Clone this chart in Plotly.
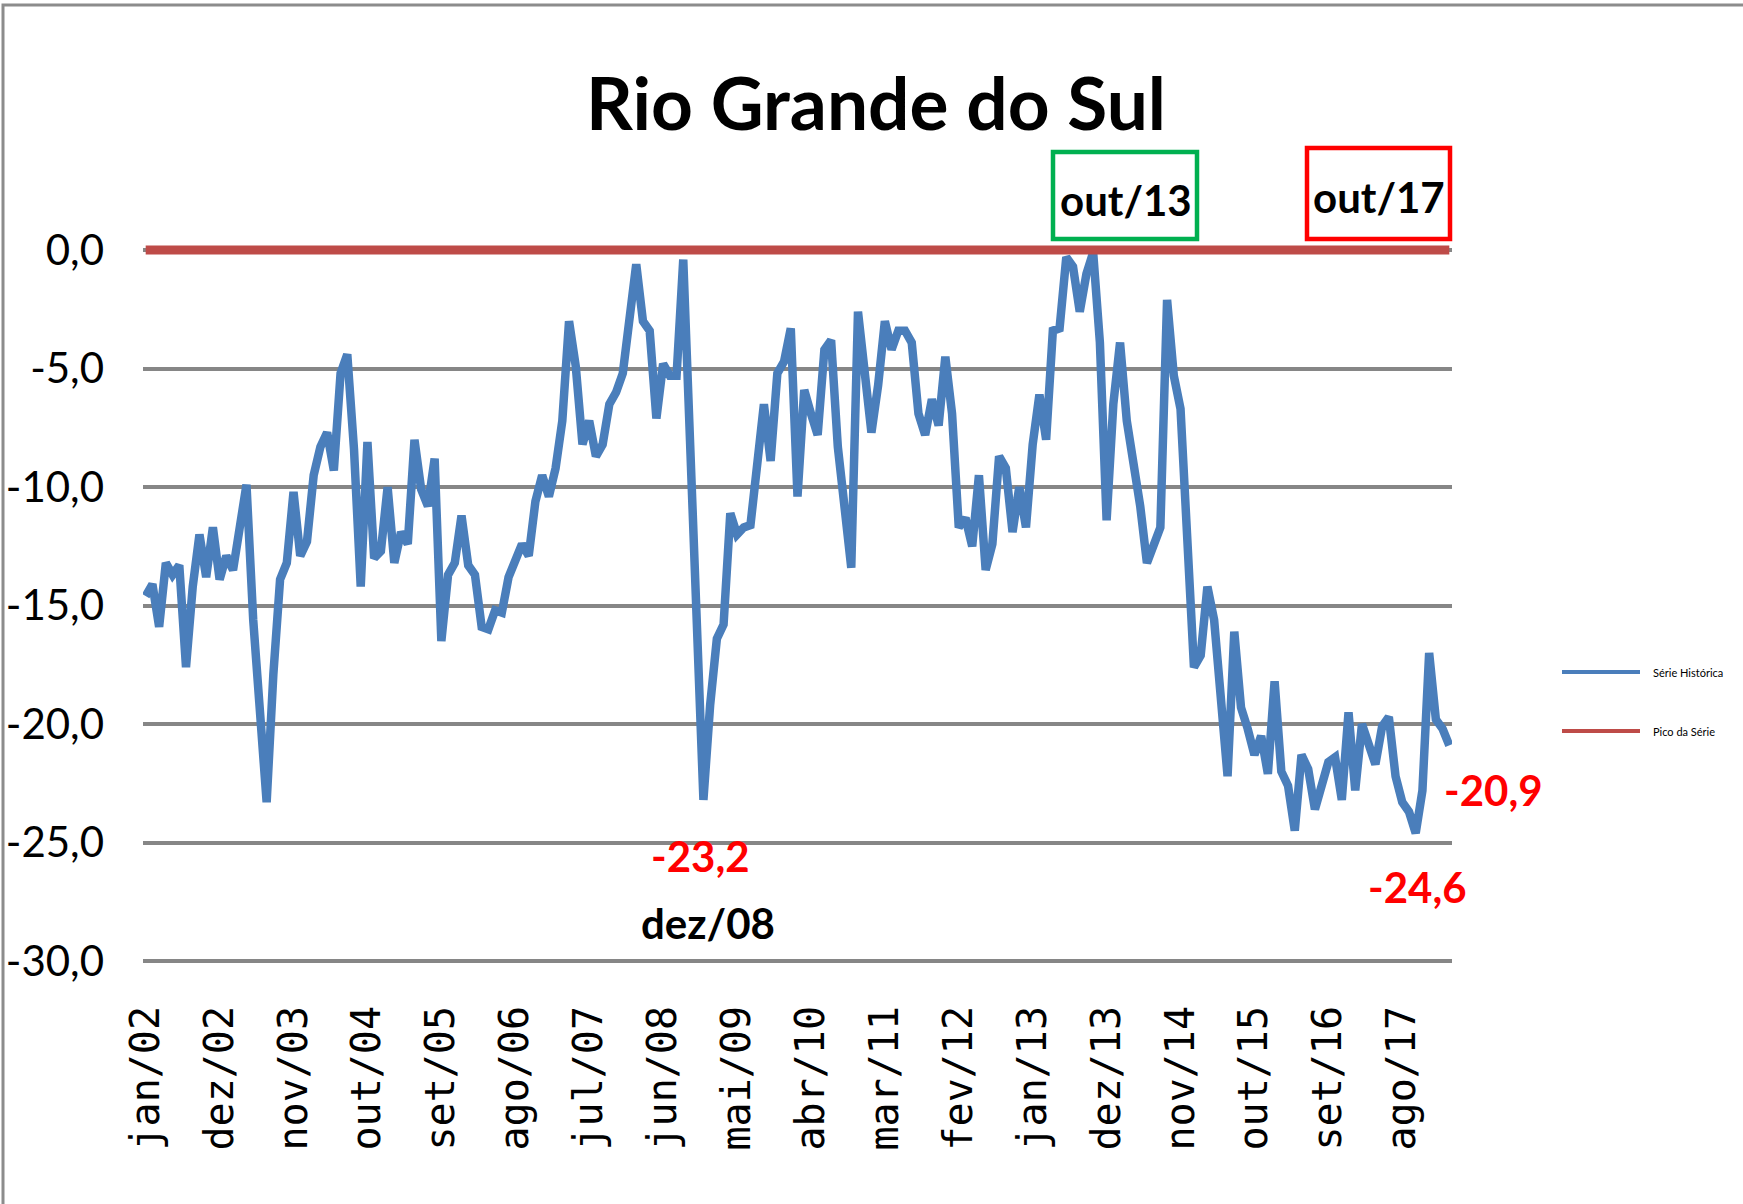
import plotly.graph_objects as go

# ---------------- data ----------------
MONTHS = ["jan", "fev", "mar", "abr", "mai", "jun", "jul", "ago", "set", "out", "nov", "dez"]
START_YEAR = 2002
N_POINTS = 195  # jan/02 .. mar/18

CATEGORIES = [f"{MONTHS[k % 12]}/{(START_YEAR + k // 12) % 100:02d}" for k in range(N_POINTS)]

SERIE_HISTORICA = [
    -14.6, -14.1, -15.9, -13.2, -13.7, -13.3, -17.6, -14.2, -12.0, -13.8,
    -11.7, -13.9, -12.9, -13.5, -11.7, -9.9, -15.6, -19.4, -23.3, -17.9,
    -13.9, -13.2, -10.2, -12.9, -12.3, -9.5, -8.3, -7.7, -9.3, -5.2,
    -4.4, -8.4, -14.2, -8.1, -13.0, -12.7, -10.0, -13.2, -11.9, -12.4,
    -8.0, -10.1, -10.8, -8.8, -16.5, -13.7, -13.2, -11.2, -13.3, -13.7,
    -15.9, -16.0, -15.2, -15.3, -13.8, -13.1, -12.4, -12.9, -10.6, -9.5,
    -10.4, -9.2, -7.2, -3.0, -4.9, -8.2, -7.2, -8.7, -8.2, -6.5,
    -6.0, -5.2, -3.0, -0.6, -3.0, -3.4, -7.1, -4.8, -5.3, -5.3,
    -0.4, -8.0, -15.5, -23.2, -19.2, -16.4, -15.8, -11.1, -12.0, -11.7,
    -11.6, -9.3, -6.5, -8.9, -5.2, -4.7, -3.3, -10.4, -5.9, -6.9,
    -7.8, -4.2, -3.8, -8.3, -10.7, -13.4, -2.6, -5.0, -7.7, -5.7,
    -3.0, -4.2, -3.4, -3.4, -3.9, -6.9, -7.8, -6.3, -7.4, -4.5,
    -6.9, -11.7, -11.3, -12.5, -9.5, -13.5, -12.4, -8.7, -9.2, -11.9,
    -10.0, -11.7, -8.2, -6.1, -8.0, -3.4, -3.3, -0.3, -0.7, -2.6,
    -1.0, -0.1, -3.9, -11.4, -6.5, -3.9, -7.2, -9.0, -10.8, -13.2,
    -12.4, -11.7, -2.1, -5.3, -6.7, -12.0, -17.6, -17.1, -14.2, -15.6,
    -19.1, -22.2, -16.1, -19.3, -20.2, -21.3, -20.5, -22.1, -18.2, -22.0,
    -22.6, -24.5, -21.3, -21.9, -23.6, -22.5, -21.6, -21.4, -23.2, -19.5,
    -22.8, -20.0, -20.8, -21.7, -20.1, -19.7, -22.2, -23.3, -23.7, -24.6,
    -22.8, -17.0, -19.8, -20.2, -20.9,
]
PICO_DA_SERIE = [0.0] * N_POINTS

TICK_LABELS = ["jan/02", "dez/02", "nov/03", "out/04", "set/05", "ago/06", "jul/07",
               "jun/08", "mai/09", "abr/10", "mar/11", "fev/12", "jan/13", "dez/13",
               "nov/14", "out/15", "set/16", "ago/17"]
Y_TICKS = [0, -5, -10, -15, -20, -25, -30]
Y_TICK_TEXT = ["0,0", "-5,0", "-10,0", "-15,0", "-20,0", "-25,0", "-30,0"]

# ---------------- layout geometry (pixels) ----------------
W, H = 1743, 1204
L, R, T, B = 143, 1452, 243, 967


def px(x, y):
    return (x - L) / (R - L), (B - y) / (B - T)


FONT = "Lato, Carlito, Calibri, Liberation Sans, sans-serif"
BLUE = "#4A7EBB"
RED_LINE = "#BE4B48"

fig = go.Figure()
fig.add_trace(go.Scatter(x=CATEGORIES, y=SERIE_HISTORICA, mode="lines", name="Série Histórica",
                         line=dict(color=BLUE, width=8.5)))
fig.add_trace(go.Scatter(x=CATEGORIES, y=PICO_DA_SERIE, mode="lines", name="Pico da Série",
                         line=dict(color=RED_LINE, width=9)))

shapes = []
annotations = []

# outer frame
fx0, fy0 = px(3, 5)
fx1, fy1 = px(1800, 1260)
shapes.append(dict(type="rect", xref="paper", yref="paper", x0=fx0, y0=fy1, x1=fx1, y1=fy0,
                   line=dict(color="#8C8C8C", width=3), layer="below"))

# boxes
for (x0, y0, x1, y1, col) in [(1053, 152, 1197, 239, "#00B050"), (1307, 148, 1450, 239, "#FF0000")]:
    a0, b0 = px(x0, y0)
    a1, b1 = px(x1, y1)
    shapes.append(dict(type="rect", xref="paper", yref="paper", x0=a0, y0=b1, x1=a1, y1=b0,
                       line=dict(color=col, width=4.5)))


def add_text(text, x, y, size, color="#000000", xanchor="center"):
    ax, ay = px(x, y)
    annotations.append(dict(text=text, x=ax, y=ay, xref="paper", yref="paper", showarrow=False,
                            xanchor=xanchor, yanchor="middle",
                            font=dict(family=FONT, size=size, color=color, weight="bold")))


add_text("<b>out/13</b>", 1126, 200, 42)
add_text("<b>out/17</b>", 1379, 197, 42)
add_text("<b>-23,2</b>", 700, 856, 42, "#FF0000")
add_text("<b>dez/08</b>", 708, 923, 42)
add_text("<b>-24,6</b>", 1417, 887, 42, "#FF0000")
add_text("<b>-20,9</b>", 1493, 790, 42, "#FF0000")

# manual legend
for (yy, col, name) in [(672, BLUE, "Série Histórica"), (731, RED_LINE, "Pico da Série")]:
    a0, b0 = px(1562, yy)
    a1, _ = px(1640, yy)
    shapes.append(dict(type="line", xref="paper", yref="paper", x0=a0, y0=b0, x1=a1, y1=b0,
                       line=dict(color=col, width=4)))
    ax, ay = px(1651, yy)
    annotations.append(dict(text=name, x=ax, y=ay, xref="paper", yref="paper", showarrow=False,
                            xanchor="left", yanchor="middle",
                            font=dict(family=FONT, size=11, color="#000000")))

fig.update_layout(
    width=W, height=H,
    margin=dict(l=L, r=W - R, t=T, b=H - B, pad=0, autoexpand=False),
    paper_bgcolor="white", plot_bgcolor="white",
    showlegend=False,
    title=dict(text="<b>Rio Grande do Sul</b>", x=876 / W, xanchor="center",
               y=1 - 104 / H, yanchor="middle", yref="container",
               font=dict(family=FONT, size=73, color="#000000")),
    shapes=shapes,
    annotations=annotations,
)
fig.update_xaxes(type="category", range=[-0.4, 194.4], tickmode="array",
                 tickvals=TICK_LABELS, ticktext=TICK_LABELS, tickangle=-90,
                 tickfont=dict(family="DejaVu Sans Mono", size=40, color="#000000"),
                 showgrid=False, showline=False, zeroline=False, ticks="",
                 ticklabelstandoff=30, automargin=False)
fig.update_yaxes(range=[-30.25, 0.3], tickmode="array", tickvals=Y_TICKS, ticktext=Y_TICK_TEXT,
                 tickfont=dict(family=FONT, size=42, color="#000000"),
                 showgrid=True, gridcolor="#868686", gridwidth=3.5,
                 zeroline=False, showline=False, ticks="", ticklabelstandoff=38,
                 automargin=False)

fig.write_html("out.html", config={"displayModeBar": False},
               post_script="document.body.style.margin='0px';")
